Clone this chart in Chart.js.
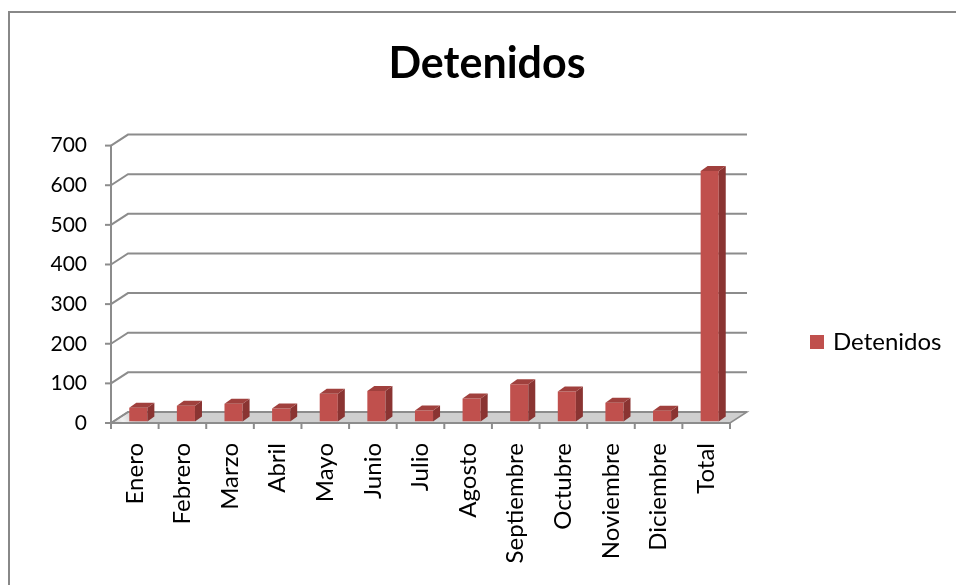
<!DOCTYPE html>
<html>
<head>
<meta charset="utf-8">
<script src="https://cdn.jsdelivr.net/npm/chart.js@4"></script>
<style>
  body { margin: 0; background: #fff; }
  #wrap { position: relative; width: 956px; height: 585px; }
  #frame { position: absolute; left: 8px; top: 11px; right: 0; bottom: 0;
           border-left: 2px solid #888; border-top: 2px solid #888; }
  canvas { position: absolute; left: 0; top: 0; }
</style>
</head>
<body>
<div id="wrap">
  <div id="frame"></div>
  <canvas id="chart" width="956" height="585"></canvas>
</div>
<script>
const meses = ['Enero', 'Febrero', 'Marzo', 'Abril', 'Mayo', 'Junio', 'Julio',
               'Agosto', 'Septiembre', 'Octubre', 'Noviembre', 'Diciembre', 'Total']
const detenidos = [35, 40, 45, 33, 70, 77, 28, 58, 94, 76, 47, 27, 632]
const yTicks = [0, 100, 200, 300, 400, 500, 600, 700]

const FONT = 'Lato, "Liberation Sans", sans-serif'
const GRAY = '#8c8c8c'
const RED = '#C0504D'

// back wall, floor and axes drawn in fake 3D, like the Excel chart
const wall3d = {
    id: 'wall3d',
    beforeDatasetsDraw(chart) {
        const ctx = chart.ctx
        const x = chart.scales.x, y = chart.scales.y
        const L = x.left, R = x.right, B = y.bottom
        const dx = 17, dy = -11
        ctx.save()

        // floor
        ctx.beginPath()
        ctx.moveTo(L, B); ctx.lineTo(R, B); ctx.lineTo(R + dx, B + dy); ctx.lineTo(L + dx, B + dy)
        ctx.closePath()
        let g = ctx.createLinearGradient(L, B, L + 20, B + dy)
        g.addColorStop(0, '#c8c8c8'); g.addColorStop(0.5, '#f2f2f2'); g.addColorStop(1, '#cfcfcf')
        ctx.fillStyle = g
        ctx.fill()
        ctx.strokeStyle = GRAY
        ctx.lineWidth = 1.5
        ctx.stroke()

        // wall gridlines
        ctx.lineWidth = 2
        ctx.strokeStyle = GRAY
        yTicks.forEach(v => {
            const py = y.getPixelForValue(v)
            ctx.beginPath()
            ctx.moveTo(L, py); ctx.lineTo(L + dx, py + dy); ctx.lineTo(R + dx, py + dy)
            ctx.stroke()
            // tick mark
            ctx.beginPath()
            ctx.moveTo(L - 6, py); ctx.lineTo(L, py)
            ctx.stroke()
        })

        // y axis
        ctx.beginPath()
        ctx.moveTo(L, B); ctx.lineTo(L, y.top)
        ctx.stroke()

        // x axis + ticks between categories
        ctx.beginPath()
        ctx.moveTo(L, B); ctx.lineTo(R, B)
        ctx.stroke()
        const step = (R - L) / meses.length
        for (let i = 0; i <= meses.length; i++) {
            ctx.beginPath()
            ctx.moveTo(L + i * step, B); ctx.lineTo(L + i * step, B + 6)
            ctx.stroke()
        }
        ctx.restore()

        // bars stand a little back on the floor
        ctx.save()
        ctx.translate(3.5, -1.5)
    },
    afterDatasetsDraw(chart) {
        const ctx = chart.ctx
        const bd = 7, bdy = -5
        chart.getDatasetMeta(0).data.forEach(bar => {
            const l = bar.x - bar.width / 2, r = bar.x + bar.width / 2
            const t = bar.y, b = bar.base
            ctx.fillStyle = '#8a3432'
            ctx.beginPath()
            ctx.moveTo(r, t); ctx.lineTo(r + bd, t + bdy); ctx.lineTo(r + bd, b + bdy); ctx.lineTo(r, b)
            ctx.closePath(); ctx.fill()
            ctx.fillStyle = '#a0403d'
            ctx.beginPath()
            ctx.moveTo(l, t); ctx.lineTo(l + bd, t + bdy); ctx.lineTo(r + bd, t + bdy); ctx.lineTo(r, t)
            ctx.closePath(); ctx.fill()
        })
        ctx.restore()
    },
    afterDraw(chart) {
        // legend on the right
        const ctx = chart.ctx
        ctx.save()
        ctx.fillStyle = RED
        ctx.fillRect(810, 335, 14, 14)
        ctx.fillStyle = '#000'
        ctx.font = '24px ' + FONT
        ctx.textBaseline = 'middle'
        ctx.fillText('Detenidos', 833, 342)
        ctx.restore()
    }
}

const data = {
    labels: meses,
    datasets: [{
        label: 'Detenidos',
        data: detenidos,
        backgroundColor: RED,
        categoryPercentage: 1,
        barPercentage: 0.38
    }]
}

const config = {
    type: 'bar',
    data: data,
    options: {
        responsive: false,
        animation: false,
        layout: { padding: { left: 18, right: 0, top: 0, bottom: 0 } },
        plugins: {
            legend: { display: false },
            tooltip: { enabled: false },
            title: {
                display: true,
                text: 'Detenidos',
                color: '#000',
                font: { family: FONT, size: 43, weight: 'bold' },
                padding: { top: 38, bottom: 56 }
            }
        },
        scales: {
            x: {
                grid: { display: false, drawTicks: false },
                border: { display: false },
                ticks: {
                    color: '#000',
                    font: { family: FONT, size: 24 },
                    maxRotation: 90, minRotation: 90,
                    padding: 20,
                    autoSkip: false
                },
                afterFit: s => { s.height = 162 }
            },
            y: {
                min: 0, max: 700,
                grid: { display: false, drawTicks: false },
                border: { display: false },
                ticks: {
                    stepSize: 100,
                    color: '#000',
                    font: { family: FONT, size: 21 },
                    padding: 24
                },
                afterFit: s => { s.width = 93 }
            },
            // empty right axis: keeps room for the legend
            yr: {
                position: 'right',
                grid: { display: false, drawTicks: false },
                border: { display: false },
                ticks: { display: false },
                afterFit: s => { s.width = 226 }
            }
        }
    },
    plugins: [wall3d]
}

let ctx = document.getElementById('chart').getContext('2d')
new Chart(ctx, config)
</script>
</body>
</html>
